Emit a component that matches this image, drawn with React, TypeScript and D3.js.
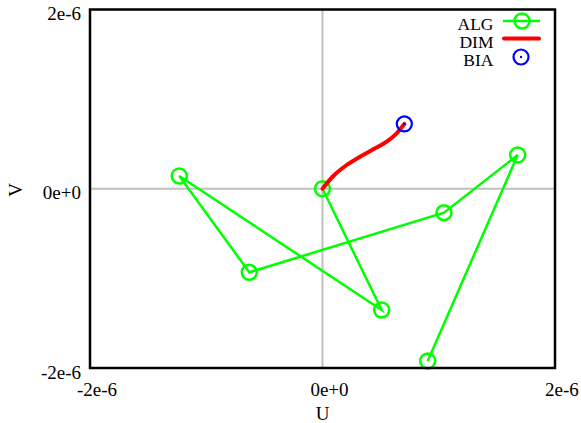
import React from 'react';
import * as d3 from 'd3';

// values, in units of 1e-6
const algU = [0, 0.509, -1.232, -0.63, 1.045, 1.679, 0.905];
const algV = [0, -1.353, 0.142, -0.932, -0.267, 0.377, -1.922];
const dimU = [0, 0.093, 0.208, 0.323, 0.437, 0.552, 0.638, 0.704];
const dimV = [0, 0.142, 0.265, 0.358, 0.44, 0.525, 0.619, 0.723];
const biaU = [0.704];
const biaV = [0.723];
const xTicks = [-2e-6, 0, 2e-6];
const yTicks = [-2e-6, 0, 2e-6];
const tickLabels = ['-2e-6', '0e+0', '2e-6'];
const legendNames = ['ALG', 'DIM', 'BIA'];

const W = 581, H = 423;
const margin = { left: 90, right: 26, top: 9.5, bottom: 55 };
const font = '"Liberation Serif", "Times New Roman", serif';

export default function App() {
  const x = d3.scaleLinear().domain([-2e-6, 2e-6]).range([margin.left, W - margin.right]);
  const y = d3.scaleLinear().domain([-2e-6, 2e-6]).range([H - margin.bottom, margin.top]);

  const alg = algU.map((u, i) => [u * 1e-6, algV[i] * 1e-6] as [number, number]);
  const dim = dimU.map((u, i) => [u * 1e-6, dimV[i] * 1e-6] as [number, number]);
  const bia = biaU.map((u, i) => [u * 1e-6, biaV[i] * 1e-6] as [number, number]);

  const line = d3.line<[number, number]>().x(d => x(d[0])).y(d => y(d[1]));
  const curve = d3.line<[number, number]>().x(d => x(d[0])).y(d => y(d[1])).curve(d3.curveMonotoneX);

  const x0 = x.range()[0], x1 = x.range()[1];
  const y0 = y.range()[1], y1 = y.range()[0];

  const legX = 522, legY = [21, 38.5, 57];

  return (
    <svg width={W} height={H} style={{ position: 'absolute', left: 0, top: 0 }} fontFamily={font}>
      <rect width={W} height={H} fill="white" />
      {/* zero lines */}
      <line x1={x(0)} x2={x(0)} y1={y0} y2={y1} stroke="#c0c0c0" strokeWidth={2} />
      <line x1={x0} x2={x1} y1={y(0)} y2={y(0)} stroke="#c0c0c0" strokeWidth={2} />

      <path d={line(alg) || ''} fill="none" stroke="#00ff00" strokeWidth={2.5} />
      {alg.map((d, i) => (
        <circle key={i} cx={x(d[0])} cy={y(d[1])} r={7.5} fill="none" stroke="#00ff00" strokeWidth={2.5} />
      ))}
      <path d={curve(dim) || ''} fill="none" stroke="#ff0000" strokeWidth={4} strokeLinecap="round" />
      {bia.map((d, i) => (
        <g key={i}>
          <circle cx={x(d[0])} cy={y(d[1])} r={7.5} fill="none" stroke="#0000ff" strokeWidth={2.2} />
          <circle cx={x(d[0])} cy={y(d[1])} r={1.2} fill="#0000ff" />
        </g>
      ))}

      {/* frame */}
      <rect x={x0} y={y0} width={x1 - x0} height={y1 - y0} fill="none" stroke="black" strokeWidth={2.5} />

      {/* ticks */}
      {xTicks.map((t, i) => (
        <text key={'x' + i} x={x(t) + 7} y={395.5} textAnchor="middle" fontSize={19}>{tickLabels[i]}</text>
      ))}
      {yTicks.map((t, i) => (
        <text key={'y' + i} x={81} y={y(t) + 10.5} textAnchor="end" fontSize={19}>{tickLabels[i]}</text>
      ))}
      <text x={x(0)} y={419.5} textAnchor="middle" fontSize={19}>U</text>
      <text transform={`translate(21.5,190) rotate(-90)`} textAnchor="middle" fontSize={19}>V</text>

      {/* legend */}
      {legendNames.map((n, i) => (
        <text key={n} x={493.5} y={legY[i] + 9} textAnchor="end" fontSize={17.5}>{n}</text>
      ))}
      <line x1={503} x2={540} y1={legY[0]} y2={legY[0]} stroke="#00ff00" strokeWidth={2.5} />
      <circle cx={legX} cy={legY[0]} r={7.5} fill="none" stroke="#00ff00" strokeWidth={2.5} />
      <line x1={504} x2={539} y1={legY[1]} y2={legY[1]} stroke="#ff0000" strokeWidth={4} strokeLinecap="round" />
      <circle cx={legX - 1} cy={legY[2]} r={7.5} fill="none" stroke="#0000ff" strokeWidth={2.2} />
      <circle cx={legX - 1} cy={legY[2]} r={1.2} fill="#0000ff" />
    </svg>
  );
}
